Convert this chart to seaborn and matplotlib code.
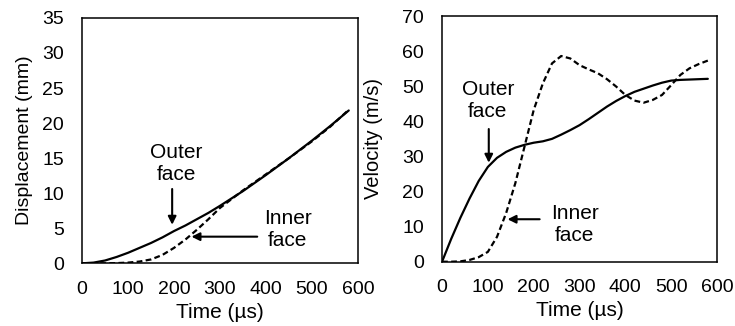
import pandas as pd
import matplotlib
matplotlib.use("Agg")
import matplotlib.pyplot as plt
import seaborn as sns

# displacement (mm)
disp_t = [0, 25, 50, 75, 100, 125, 150, 175, 200, 225, 250, 275, 300, 350, 400, 450, 500, 540, 580]
disp_outer = [0, 0.1, 0.4, 0.9, 1.5, 2.2, 2.9, 3.7, 4.6, 5.4, 6.3, 7.2, 8.2, 10.3, 12.6, 15.0, 17.5, 19.6, 21.8]
disp_inner = [0, 0, 0, 0.03, 0.1, 0.25, 0.55, 1.2, 2.2, 3.4, 4.8, 6.3, 7.9, 10.4, 12.7, 15.0, 17.4, 19.5, 21.9]

# velocity (m/s)
vel_t = [0, 20, 40, 60, 80, 100, 120, 140, 160, 180, 200, 220, 240, 260, 280, 300, 320, 340, 360,
         380, 400, 420, 440, 460, 480, 500, 520, 540, 560, 580]
vel_outer = [0, 6.5, 12.5, 18, 23, 27.0, 29.6, 31.3, 32.5, 33.3, 33.9, 34.3, 35, 36.2, 37.5, 38.9, 40.6,
             42.4, 44.2, 45.8, 47.2, 48.4, 49.3, 50.2, 51, 51.6, 51.8, 51.9, 52.0, 52.1]
vel_inner = [0, 0, 0.1, 0.5, 1.3, 2.8, 7.1, 13.9, 22.4, 32.8, 43.2, 50.8, 56.5, 58.6, 57.9, 56.0, 54.8,
             53.7, 52.0, 49.9, 47.5, 45.9, 45.3, 46.1, 47.5, 50.3, 53.2, 55.1, 56.3, 57.3]

sns.set_style("white")
plt.rcParams['font.family'] = ['Liberation Sans', 'DejaVu Sans']
plt.rcParams['font.size'] = 14
plt.rcParams['xtick.direction'] = 'in'
plt.rcParams['ytick.direction'] = 'in'
for k in ['text.color', 'axes.labelcolor', 'xtick.color', 'ytick.color']:
    plt.rcParams[k] = 'black'

fig = plt.figure(figsize=(7.35, 3.26), dpi=100)
ax1 = fig.add_axes([0.1116, 0.1923, 0.3754, 0.7527])
ax2 = fig.add_axes([0.6014, 0.1972, 0.3741, 0.7537])

d1 = pd.DataFrame({"t": disp_t, "outer": disp_outer, "inner": disp_inner})
d2 = pd.DataFrame({"t": vel_t, "outer": vel_outer, "inner": vel_inner})

for ax, df in [(ax1, d1), (ax2, d2)]:
    sns.lineplot(data=df, x="t", y="outer", ax=ax, color="black", linewidth=1.6)
    sns.lineplot(data=df, x="t", y="inner", ax=ax, color="black", linewidth=1.6,
                 linestyle=(0, (2.6, 1.5)))
    ax.set_xlim(0, 600)
    ax.set_xticks(range(0, 601, 100))
    ax.set_xlabel("Time (µs)", fontsize=15)
    for s in ax.spines.values():
        s.set_color("black")
        s.set_linewidth(1.1)
    ax.tick_params(axis="both", length=5, width=0.8, color="black", labelsize=14)
    ax.tick_params(axis="x", pad=12.5)
    ax.tick_params(axis="y", pad=13)
    ax.xaxis.set_label_coords(0.5, -0.16)

ax1.set_ylim(0, 35)
ax1.set_yticks(range(0, 36, 5))
ax1.set_ylabel("Displacement (mm)", fontsize=14)
ax1.yaxis.set_label_coords(-0.178, 0.5)
ax2.set_ylim(0, 70)
ax2.set_yticks(range(0, 71, 10))
ax2.set_ylabel("Velocity (m/s)", fontsize=14.5)
ax2.yaxis.set_label_coords(-0.215, 0.5)

arrow = dict(arrowstyle="-|>", color="black", lw=1.5, mutation_scale=12, shrinkA=0, shrinkB=0)

ax1.text(205, 14.3, "Outer\nface", ha="center", va="center", fontsize=15, linespacing=1.2)
ax1.annotate("", xy=(196, 5.5), xytext=(196, 10.6), arrowprops=arrow)
ax1.text(447, 4.8, "Inner\nface", ha="center", va="center", fontsize=15, linespacing=1.2)
ax1.annotate("", xy=(238, 3.8), xytext=(381, 3.8), arrowprops=arrow)

ax2.text(100, 45.8, "Outer\nface", ha="center", va="center", fontsize=15, linespacing=1.2)
ax2.annotate("", xy=(102, 28.2), xytext=(102, 37.8), arrowprops=arrow)
ax2.text(290, 10.7, "Inner\nface", ha="center", va="center", fontsize=15, linespacing=1.2)
ax2.annotate("", xy=(143, 12.1), xytext=(213, 12.1), arrowprops=arrow)

fig.savefig("out.png", dpi=100)
